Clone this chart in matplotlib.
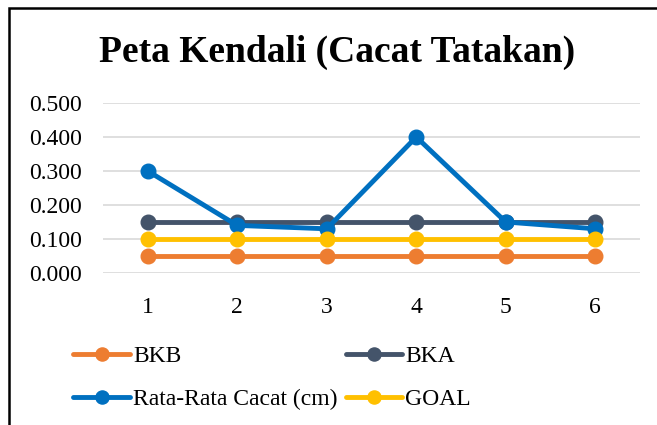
import matplotlib.pyplot as plt
from matplotlib.patches import Rectangle

# Data
periods = [1, 2, 3, 4, 5, 6]
bkb = [0.05, 0.05, 0.05, 0.05, 0.05, 0.05]
bka = [0.15, 0.15, 0.15, 0.15, 0.15, 0.15]
rata = [0.30, 0.14, 0.13, 0.40, 0.15, 0.13]
goal = [0.10, 0.10, 0.10, 0.10, 0.10, 0.10]
yticks = [0.0, 0.1, 0.2, 0.3, 0.4, 0.5]

plt.rcParams['font.family'] = ['Liberation Serif', 'DejaVu Serif']

fig = plt.figure(figsize=(6.57, 4.25), dpi=100)
ax = fig.add_axes([103/657, 1 - 273/425, (640 - 103)/657, (273 - 103)/425])

style = dict(linewidth=3.5, marker='o', markersize=10.5, solid_capstyle='round')
l1, = ax.plot(periods, bkb, color='#ED7D31', label='BKB', **style)
l2, = ax.plot(periods, bka, color='#44546A', label='BKA', **style)
l3, = ax.plot(periods, rata, color='#0070C0', label='Rata-Rata Cacat (cm)', **style)
l4, = ax.plot(periods, goal, color='#FFC000', label='GOAL', **style)

ax.set_xlim(0.5, 6.5)
ax.set_ylim(0, 0.5)
ax.set_yticks(yticks)
ax.set_yticklabels([f'{v:.3f}' for v in yticks])
ax.set_xticks(periods)
ax.tick_params(length=0, labelsize=17)
ax.tick_params(axis='y', pad=15)
ax.tick_params(axis='x', pad=17)
ax.grid(True, axis='y', color='#D9D9D9', linewidth=1.2)
ax.set_axisbelow(True)
for s in ax.spines.values():
    s.set_visible(False)

fig.text(337/657, 1 - 62/425, 'Peta Kendali (Cacat Tatakan)', ha='center', va='baseline',
         fontsize=27, fontweight='bold')

fig.legend([l1, l3, l2, l4], ['BKB', 'Rata-Rata Cacat (cm)', 'BKA', 'GOAL'],
           ncol=2, loc='upper left', bbox_to_anchor=(64/657, 1 - 336/425),
           frameon=False, fontsize=17, handlelength=2.4, handletextpad=0.13,
           columnspacing=0.34, labelspacing=0.92, borderaxespad=0, markerscale=0.9)

fig.add_artist(Rectangle((9/657, -0.1), 1.2, 1 - 8/425 + 0.1, transform=fig.transFigure,
                         fill=False, edgecolor='black', linewidth=1.8))

fig.savefig('out.png', dpi=100)
